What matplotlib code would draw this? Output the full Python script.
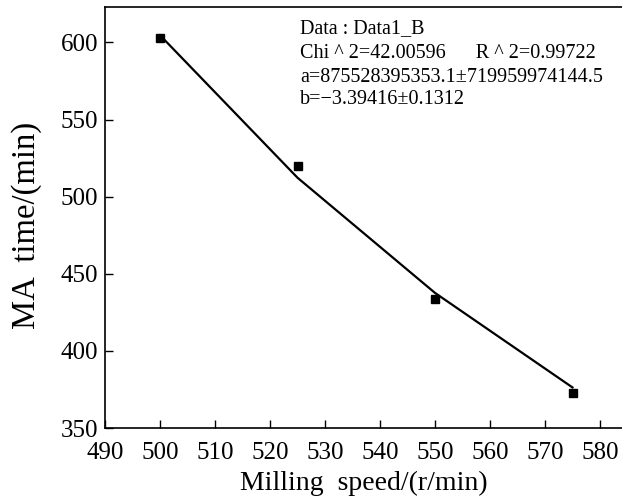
import matplotlib
matplotlib.use("Agg")
from matplotlib import pyplot as plt

# measured points
speed = [500, 525, 550, 575]
ma_time = [602.6, 520.0, 433.8, 372.7]

# fitted curve (allometric fit y = a*x^b)
fit_speed = [500, 525, 550, 575]
fit_time = [604.7, 512.3, 437.6, 376.3]

fit_text = ["Data : Data1_B",
            "Chi ^ 2=42.00596      R ^ 2=0.99722",
            "a=875528395353.1\u00b1719959974144.5",
            "b=\u22123.39416\u00b10.1312"]

plt.rcParams['font.family'] = ['Liberation Serif', 'DejaVu Serif']

fig = plt.figure(figsize=(6.22, 5.04), dpi=100)
W, H = 622, 504
left, right, top, bottom = 105, 622, 7, 428
ax = fig.add_axes([left / W, 1 - bottom / H, (right - left) / W, (bottom - top) / H])

ax.plot(fit_speed, fit_time, color='black', linewidth=1.6)
ax.plot(speed, ma_time, 's', color='black', markersize=6)

ax.set_xlim(490, 584)
ax.set_ylim(350, 623)
ax.set_xticks(range(490, 581, 10))
ax.set_yticks(range(350, 601, 50))
ax.tick_params(direction='in', length=6, width=1, labelsize=18)
ax.tick_params(axis='x', pad=10)
ax.tick_params(axis='y', pad=5)
ax.spines['right'].set_visible(False)
for s in ['left', 'bottom', 'top']:
    ax.spines[s].set_linewidth(1.2)

ax.set_xlabel("Milling  speed/(r/min)", fontsize=20, labelpad=5)
ax.set_ylabel("MA  time/(min)", fontsize=23.5)
ax.yaxis.set_label_coords(-(left - 27) / (right - left), (bottom - 225) / (bottom - top))
ax.yaxis.label.set_va('center')

ys = [29, 54, 77, 99]
for t, y in zip(fit_text, ys):
    fig.text(300 / W, 1 - y / H, t, fontsize=14.5, va='center', ha='left')

fig.savefig('out.png', dpi=100)
